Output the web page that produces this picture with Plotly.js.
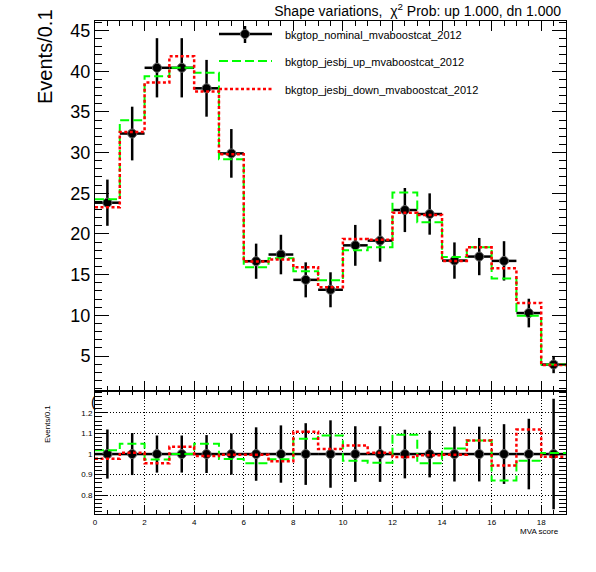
<!DOCTYPE html>
<html>
<head>
<meta charset="utf-8">
<script src="https://cdn.plot.ly/plotly-3.0.1.min.js"></script>
<style>html,body{margin:0;padding:0;background:#fff;}#chart{width:596px;height:572px;}</style>
</head>
<body>
<div id="chart"></div>
<script>
// ---- data ----
const binEdges = [0,1,2,3,4,5,6,7,8,9,10,11,12,13,14,15,16,17,18,19];
const nominal    = [23.84,32.34,40.42,40.42,37.90,29.90,16.65,17.47,14.36,13.14,18.60,19.18,22.94,22.45,16.73,17.22,16.69,10.28,3.95];
const nominalErr = [2.84,3.30,3.64,3.64,3.49,2.99,2.16,2.43,2.15,2.15,2.51,2.59,2.71,2.54,2.23,2.29,2.42,1.76,1.06];
const upVals     = [24.27,33.96,39.37,40.42,39.80,29.18,15.90,17.02,15.42,14.32,18.00,18.37,25.10,21.44,17.18,18.36,14.54,9.95,3.97];
const downVals   = [23.29,32.53,38.60,41.83,37.52,29.81,16.60,16.86,15.91,13.46,19.38,19.30,22.60,22.32,16.68,18.36,15.77,11.50,3.90];
const ratioTicks = [0.8,0.9,1,1.1,1.2];
const legendNames = ["bkgtop_nominal_mvaboostcat_2012","bkgtop_jesbj_up_mvaboostcat_2012","bkgtop_jesbj_down_mvaboostcat_2012"];
const titleText = "Shape variations,  \u03c7<sup>2</sup> Prob: up 1.000, dn 1.000";
const xTitle = "MVA score";
const yTitle = "Events/0.1";

// ---- derived ----
const centers = nominal.map((_, i) => (binEdges[i] + binEdges[i+1]) / 2);
const stepY = arr => arr.concat([arr[arr.length-1]]);
const ratio = (a) => a.map((v, i) => v / nominal[i]);
const ones = nominal.map((v) => v / v);
const ratioErr = nominalErr.map((e, i) => e / nominal[i]);

// ---- pixel helpers for layout decorations ----
const L = 95, R = 566, T = 21, B = 514, SPLIT = 391;
const px = x => (x - L) / (R - L);
const py = y => (B - y) / (B - T);
const FONT = "Liberation Sans, Arial, Helvetica, sans-serif";

const GREEN = "#00ff00", RED = "#ff0000";
const nomMarker = {symbol: "circle", size: 9, color: "#000", line: {color: "#666", width: 1}};
const errStyle = {thickness: 2.5, width: 0, color: "#000"};

const traces = [
  // top panel
  {x: centers, y: nominal, xaxis: "x2", yaxis: "y2", type: "scatter", mode: "markers",
   marker: nomMarker,
   error_y: Object.assign({type: "data", array: nominalErr, visible: true}, errStyle),
   error_x: Object.assign({type: "constant", value: 0.5, visible: true}, errStyle),
   showlegend: false},
  {x: binEdges, y: stepY(upVals), xaxis: "x2", yaxis: "y2", type: "scatter", mode: "lines",
   line: {shape: "hv", color: GREEN, width: 2, dash: "9px,4px"}, showlegend: false},
  {x: binEdges, y: stepY(downVals), xaxis: "x2", yaxis: "y2", type: "scatter", mode: "lines",
   line: {shape: "hv", color: RED, width: 2.5, dash: "3px,2.5px"}, showlegend: false},
  // ratio panel
  {x: centers, y: ones, xaxis: "x", yaxis: "y", type: "scatter", mode: "markers",
   marker: nomMarker,
   error_y: Object.assign({type: "data", array: ratioErr, visible: true}, errStyle),
   error_x: Object.assign({type: "constant", value: 0.5, visible: true}, errStyle),
   showlegend: false},
  {x: binEdges, y: stepY(ratio(upVals)), xaxis: "x", yaxis: "y", type: "scatter", mode: "lines",
   line: {shape: "hv", color: GREEN, width: 2, dash: "9px,4px"}, showlegend: false},
  {x: binEdges, y: stepY(ratio(downVals)), xaxis: "x", yaxis: "y", type: "scatter", mode: "lines",
   line: {shape: "hv", color: RED, width: 2.5, dash: "3px,2.5px"}, showlegend: false}
];

const split = py(SPLIT);
const axBase = {showline: true, linecolor: "#000", linewidth: 1, ticks: "inside", tickcolor: "#000",
  tickwidth: 1, mirror: "ticks", zeroline: false, color: "#000", tickfont: {family: FONT, color: "#000"}};

const layout = {
  width: 596, height: 572,
  margin: {l: L, r: 596 - R, t: T, b: 572 - B, pad: 0},
  paper_bgcolor: "#fff", plot_bgcolor: "#fff",
  font: {family: FONT, color: "#000"},
  showlegend: false,
  title: {text: titleText, x: 561/596, xanchor: "right", xref: "container",
          y: 1 - 11/572, yanchor: "middle", yref: "container",
          font: {family: FONT, size: 14, color: "#000"}},
  xaxis: Object.assign({}, axBase, {domain: [0, 1], anchor: "y", range: [0, 19], tick0: 0, dtick: 2,
    ticklen: 8, tickfont: {family: FONT, size: 8, color: "#000"},
    showgrid: true, gridcolor: "#000", gridwidth: 1, griddash: "1px,2px",
    minor: {dtick: 0.5, ticklen: 4, tickcolor: "#000", ticks: "inside", showgrid: false}}),
  xaxis2: Object.assign({}, axBase, {domain: [0, 1], anchor: "y2", matches: "x", range: [0, 19], tick0: 0, dtick: 2,
    ticklen: 10, showticklabels: false, showgrid: false,
    minor: {dtick: 0.5, ticklen: 5, tickcolor: "#000", ticks: "inside", showgrid: false}}),
  yaxis: Object.assign({}, axBase, {domain: [0, split], anchor: "x", range: [0.709, 1.306],
    tickmode: "array", tickvals: ratioTicks, ticktext: ratioTicks.map(String),
    ticklen: 13, tickfont: {family: FONT, size: 8, color: "#000"},
    showgrid: true, gridcolor: "#000", gridwidth: 1, griddash: "1px,2px",
    minor: {tickmode: "linear", tick0: 0, dtick: 0.02, ticklen: 7, tickcolor: "#000", ticks: "inside", showgrid: false}}),
  yaxis2: Object.assign({}, axBase, {domain: [split, 1], anchor: "x2", range: [0.70, 46.17], tick0: 0, dtick: 5,
    ticklen: 14, tickfont: {family: FONT, size: 18, color: "#000"}, showgrid: false,
    minor: {dtick: 1, ticklen: 7, tickcolor: "#000", ticks: "inside", showgrid: false}}),
  shapes: [
    {type: "line", xref: "paper", yref: "paper", x0: 0, x1: 1, y0: split, y1: split, line: {color: "#000", width: 2}},
    // legend symbols
    {type: "line", xref: "paper", yref: "paper", x0: px(219), x1: px(272), y0: py(34), y1: py(34), line: {color: "#000", width: 2.5}},
    {type: "line", xref: "paper", yref: "paper", x0: px(245), x1: px(245), y0: py(26), y1: py(43), line: {color: "#000", width: 2.5}},
    {type: "circle", xref: "paper", yref: "paper", x0: px(240.5), x1: px(249.5), y0: py(29.5), y1: py(38.5),
     fillcolor: "#000", line: {color: "#666", width: 1}},
    {type: "line", xref: "paper", yref: "paper", x0: px(219), x1: px(272), y0: py(61), y1: py(61), line: {color: GREEN, width: 2, dash: "9px,4px"}},
    {type: "line", xref: "paper", yref: "paper", x0: px(219), x1: px(272), y0: py(89), y1: py(89), line: {color: RED, width: 2.5, dash: "3px,2.5px"}}
  ],
  annotations: [
    {text: legendNames[0], xref: "paper", yref: "paper", x: px(283), y: py(35), xanchor: "left", yanchor: "middle", showarrow: false, font: {family: FONT, size: 11, color: "#000"}},
    {text: legendNames[1], xref: "paper", yref: "paper", x: px(283), y: py(62.5), xanchor: "left", yanchor: "middle", showarrow: false, font: {family: FONT, size: 11, color: "#000"}},
    {text: legendNames[2], xref: "paper", yref: "paper", x: px(283), y: py(90), xanchor: "left", yanchor: "middle", showarrow: false, font: {family: FONT, size: 11, color: "#000"}},
    {text: yTitle, xref: "paper", yref: "paper", x: px(45), y: py(57), xanchor: "center", yanchor: "middle", textangle: -90, showarrow: false, font: {family: FONT, size: 20, color: "#000"}},
    {text: yTitle, xref: "paper", yref: "paper", x: px(47), y: py(424), xanchor: "center", yanchor: "middle", textangle: -90, showarrow: false, font: {family: FONT, size: 8, color: "#000"}},
    {text: xTitle, xref: "paper", yref: "paper", x: px(561), y: py(531), xanchor: "right", yanchor: "middle", showarrow: false, font: {family: FONT, size: 8, color: "#000"}},
    {text: "(", xref: "paper", yref: "paper", x: px(93), y: py(402), xanchor: "center", yanchor: "middle", showarrow: false, font: {family: FONT, size: 14, color: "#000"}}
  ]
};

Plotly.newPlot("chart", traces, layout, {displayModeBar: false, staticPlot: true});
</script>
</body>
</html>
